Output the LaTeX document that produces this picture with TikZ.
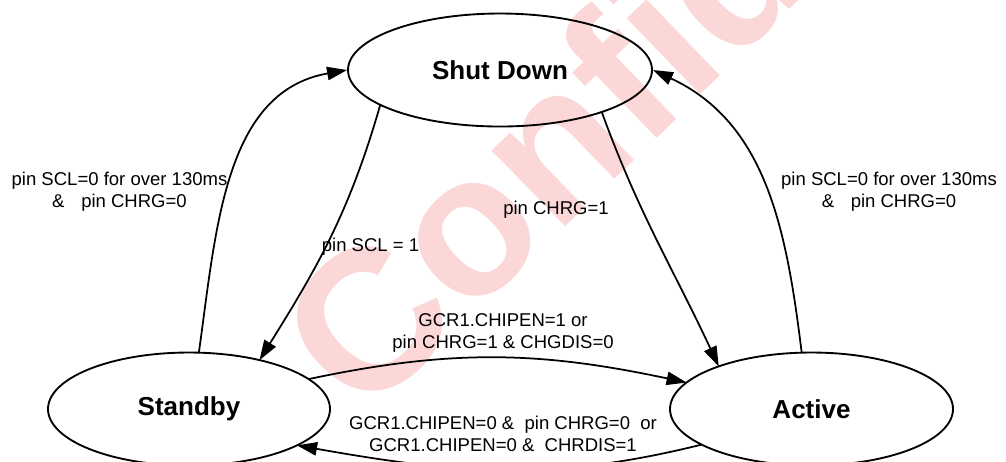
\documentclass[tikz,border=0pt]{standalone}
\usepackage{fontspec}
\setmainfont{Liberation Sans}
\usetikzlibrary{shapes.geometric,arrows.meta,calc}
\definecolor{stamppink}{RGB}{251,215,215}

\begin{document}
\begin{tikzpicture}[scale=0.1]
            \tikzstyle{every node}+=[inner sep=0pt]
            \tikzstyle{state}=[draw=black, ellipse, line width=0.53pt, minimum height=1.13cm, font=\fontsize{7.4}{9}\selectfont\bfseries]
            \tikzstyle{trans}=[black, line width=0.5pt, -{Triangle[length=5.7pt,width=3.8pt]}]
            \tikzstyle{cond}=[align=center, font=\fontsize{5.27}{6.27}\selectfont]
            \useasboundingbox (0,0) rectangle (100.6,-46.1);
            % watermark
            \node [anchor=base west, rotate=44, text=stamppink, font=\bfseries\fontsize{56.9}{56.9}\selectfont] (stamp) at (36.29,-42.17) {Confidential};
            % states
            \node [state, minimum width=3.04cm] (shutdown) at (50.0,-7.0) {Shut Down};
            \node [state, minimum width=2.82cm] (standby) at (18.9,-40.9) {Standby};
            \node [state, minimum width=2.83cm] (active) at (81.15,-40.9) {Active};
            % transitions
            \draw [trans] ($(standby)+(86:14.1 and 5.65)$) to [out=82, in=190] (shutdown.west);
            \draw [trans] ($(shutdown)+(218:15.2 and 5.65)$) to [out=254, in=58] ($(standby)+(60:14.1 and 5.65)$);
            \draw [trans] ($(shutdown)+(-48:15.2 and 5.65)$) to [out=290, in=115] ($(active)+(131:14.15 and 5.65)$);
            \draw [trans] ($(active)+(94:14.15 and 5.65)$) to [out=97, in=-25] (shutdown.east);
            \draw [trans] ($(standby)+(32:14.1 and 5.65)$) .. controls +(12:14.8) and +(168:14.8) .. ($(active)+(152:14.15 and 5.65)$);
            \draw [trans] ($(active)+(219:14.15 and 5.65)$) .. controls +(194:15.8) and +(-10:15.8) .. ($(standby)+(-40:14.1 and 5.65)$);
            % conditions
            \node [cond] (offleft) at (11.95,-19.2) {pin SCL=0 for over 130ms\\\&\hspace{0.9em}pin CHRG=0};
            \node [cond] (offright) at (88.9,-19.2) {pin SCL=0 for over 130ms\\\&\hspace{0.9em}pin CHRG=0};
            \node [cond] (scl) at (37.05,-24.7) {pin SCL = 1};
            \node [cond] (chrg) at (55.6,-21.0) {pin CHRG=1};
            \node [cond] (wake) at (50.3,-33.3) {GCR1.CHIPEN=1 or\\pin CHRG=1 \& CHGDIS=0};
            \node [cond] (sleep) at (50.3,-43.4) {GCR1.CHIPEN=0 \&\ \ pin CHRG=0\ \ or\\GCR1.CHIPEN=0 \&\ \ CHRDIS=1};
        \end{tikzpicture}
\end{document}
